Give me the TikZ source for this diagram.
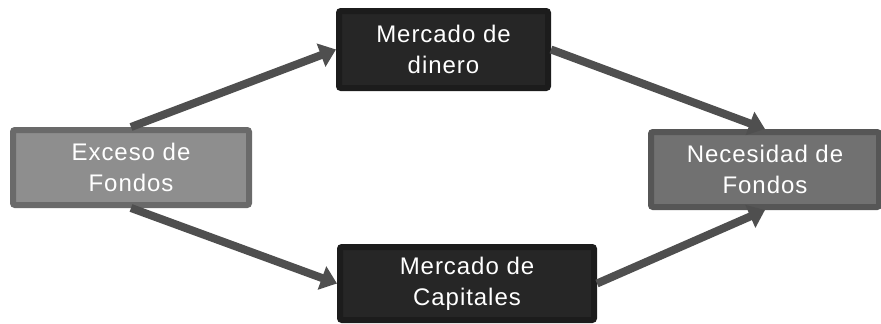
\documentclass[tikz,border=0pt]{standalone}
\usepackage{fontspec}
\setmainfont{Liberation Sans}[LetterSpace=4]
\usepackage{tikz}
\usetikzlibrary{arrows.meta, calc}
\definecolor{excesofill}{HTML}{8E8E8E}
\definecolor{excesoline}{HTML}{6A6A6A}
\definecolor{necfill}{HTML}{717171}
\definecolor{necline}{HTML}{565656}
\definecolor{mercfill}{HTML}{262626}
\definecolor{mercline}{HTML}{1C1C1C}
\definecolor{flecha}{HTML}{4F4F4F}
\newcommand\textsize{\fontsize{24}{31}\selectfont}

\begin{document}
\begin{tikzpicture}[x=1pt, y=-1pt,
  caja/.style={rectangle, rounded corners=2pt, line width=6pt, align=center,
               text=white, font=\textsize},
  flujo/.style={line width=8pt, color=flecha, -{Triangle[length=16pt,width=24pt]}}]

\useasboundingbox (0,0) rectangle (881,324);

% cajas
\node[caja, draw=excesoline, fill=excesofill, minimum width=236pt, minimum height=75pt]
  (exceso) at (131,167.5) {Exceso de\\Fondos};
\node[caja, draw=mercline, fill=mercfill, minimum width=209pt, minimum height=77pt]
  (dinero) at (443.5,49.5) {Mercado de\\dinero};
\node[caja, draw=necline, fill=necfill, minimum width=228pt, minimum height=75pt]
  (necesidad) at (765,169.5) {Necesidad de\\Fondos};
\node[caja, draw=mercline, fill=mercfill, minimum width=254pt, minimum height=73pt]
  (capitales) at (467,283.5) {Mercado de\\Capitales};

% flechas
\draw[flujo] (exceso.north) -- (dinero.west);
\draw[flujo] (dinero.east) -- (necesidad.north);
\draw[flujo] (exceso.south) -- (capitales.west);
\draw[flujo] (capitales.east) -- (necesidad.south);

\end{tikzpicture}
\end{document}
